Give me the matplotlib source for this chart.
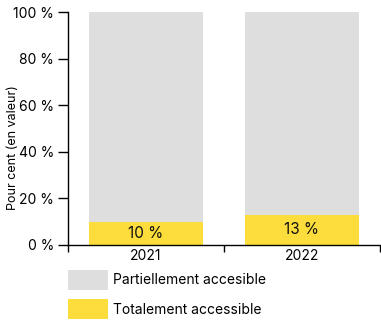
import matplotlib.pyplot as plt
import numpy as np

years = ["2021", "2022"]
totalement = [10, 13]
partiellement = [90, 87]
series_labels = ["Partiellement accesible", "Totalement accessible"]
yticks = [0, 20, 40, 60, 80, 100]

gray = "#dedede"
yellow = "#fcdd3c"

plt.rcParams["font.family"] = ["Inter", "DejaVu Sans"]

fig = plt.figure(figsize=(3.81, 3.26), dpi=100)
ax = fig.add_axes([68 / 381, 81 / 326, 312 / 381, 233 / 326])

x = np.arange(len(years))
b1 = ax.bar(x, totalement, width=0.725, color=yellow, label=series_labels[1])
b2 = ax.bar(x, partiellement, bottom=totalement, width=0.725, color=gray,
            label=series_labels[0])

for xi, v in zip(x, totalement):
    ax.text(xi, v / 2, f"{v} %", ha="center", va="center", fontsize=11,
            color="#111111")

ax.set_xlim(-0.5, len(years) - 0.5)
ax.set_ylim(0, 100)
ax.set_xticks(x)
ax.set_xticklabels(years, fontsize=10)
ax.set_xticks(np.arange(len(years) + 1) - 0.5, minor=True)
ax.tick_params(axis="x", which="major", length=0, pad=3)
ax.tick_params(axis="x", which="minor", length=5, width=1, direction="out")
ax.set_yticks(yticks)
ax.set_yticklabels([f"{t} %" for t in yticks], fontsize=10)
ax.tick_params(axis="y", length=7, width=1, pad=3)

for s in ["top", "right"]:
    ax.spines[s].set_visible(False)
for s in ["left", "bottom"]:
    ax.spines[s].set_linewidth(1)

fig.text(13 / 381, 1 - 148 / 326, "Pour cent (en valeur)", rotation=90,
         ha="center", va="center", fontsize=9)

fig.legend([b2, b1], series_labels, loc="upper left",
           bbox_to_anchor=(68 / 381, 1 - 270 / 326), frameon=False,
           borderpad=0, borderaxespad=0, handlelength=2.9, handleheight=1.8,
           labelspacing=0.7, handletextpad=0.35, fontsize=10)

fig.savefig("out.png", dpi=100)
